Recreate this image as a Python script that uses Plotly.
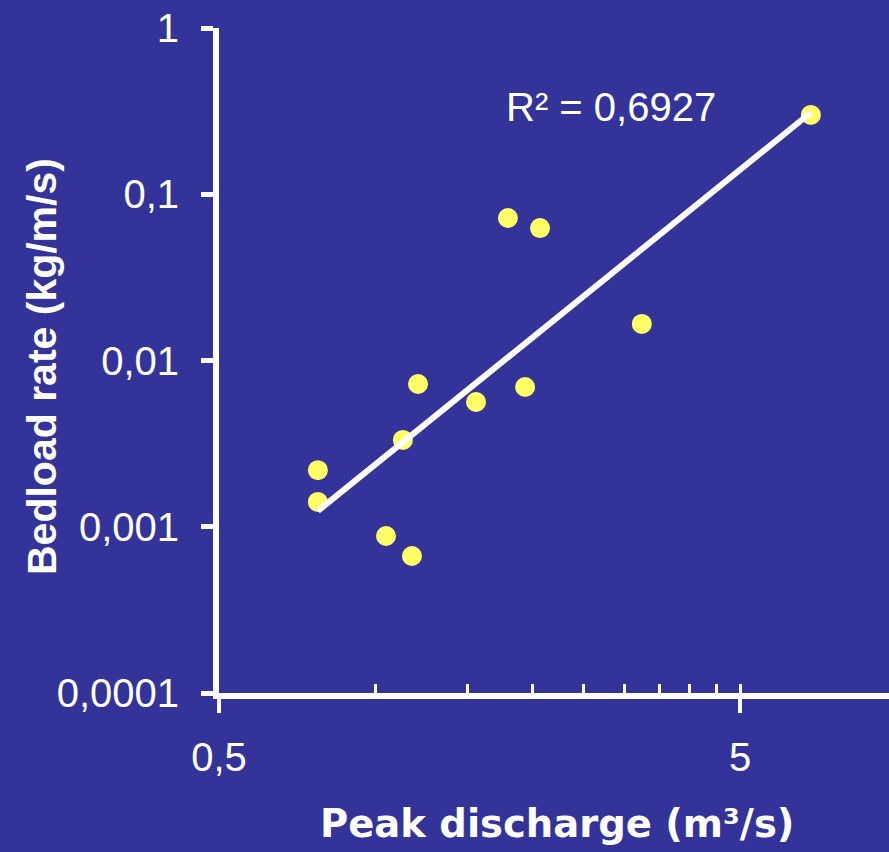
import numpy as np
import plotly.graph_objects as go

# Data (log-log scatter)
peak_discharge = [0.774, 0.774, 1.046, 1.173, 1.127, 1.205, 1.557, 1.793, 2.066, 1.934, 3.24, 6.84]
bedload_rate = [0.00219, 0.00141, 0.00088, 0.000667, 0.00333, 0.00722, 0.00563, 0.0720, 0.0626, 0.00693, 0.0166, 0.300]

y_tickvals = [0.0001, 0.001, 0.01, 0.1, 1]
y_ticktext = ["0,0001", "0,001", "0,01", "0,1", "1"]
x_tickvals = [0.5, 5]
x_ticktext = ["0,5", "5"]
x_minor_vals = [1, 1.5, 2, 2.5, 3, 3.5, 4, 4.5, 5]
r2_label = "R² = 0,6927"
x_title = "Peak discharge (m³/s)"
y_title = "Bedload rate (kg/m/s)"

BG = "#333399"
FONT = "Liberation Sans, Arial, sans-serif"

# Power trendline (linear fit in log-log space)
lx = np.log10(peak_discharge)
ly = np.log10(bedload_rate)
slope, intercept = np.polyfit(lx, ly, 1)
trend_x = np.array([min(peak_discharge), max(peak_discharge)])
trend_y = 10 ** (intercept + slope * np.log10(trend_x))

fig = go.Figure()
fig.add_trace(go.Scatter(
    x=peak_discharge, y=bedload_rate, mode="markers",
    marker=dict(size=20, color="#FFFF66", line=dict(width=0)),
    showlegend=False, cliponaxis=False,
))
fig.add_trace(go.Scatter(
    x=trend_x, y=trend_y, mode="lines",
    line=dict(color="white", width=6),
    showlegend=False, cliponaxis=False,
))

x_range = [np.log10(0.5), np.log10(0.5) + 670 / 521]

fig.update_layout(
    width=889, height=852,
    margin=dict(l=219, r=0, t=28, b=159),
    paper_bgcolor=BG, plot_bgcolor=BG,
    font=dict(family=FONT, color="white", size=40),
    xaxis=dict(
        type="log", range=x_range, showgrid=False, zeroline=False,
        showline=True, linecolor="white", linewidth=6,
        tickvals=x_tickvals, ticktext=x_ticktext,
        ticks="outside", ticklen=14, tickwidth=4, tickcolor="white",
        ticklabelstandoff=10,
        tickfont=dict(family=FONT, size=40, color="white"),
    ),
    xaxis2=dict(
        type="log", range=x_range, overlaying="x", side="bottom",
        showgrid=False, zeroline=False, showline=False,
        tickvals=x_minor_vals, ticks="inside", ticklen=9, tickwidth=3,
        tickcolor="white", showticklabels=False,
    ),
    yaxis=dict(
        type="log", range=[-4, 0], showgrid=False, zeroline=False,
        showline=True, linecolor="white", linewidth=6,
        tickvals=y_tickvals, ticktext=y_ticktext,
        ticks="outside", ticklen=12, tickwidth=5, tickcolor="white",
        ticklabelstandoff=14,
        tickfont=dict(family=FONT, size=40, color="white"),
    ),
    annotations=[
        dict(text=r2_label, xref="paper", yref="paper",
             x=(504 - 219) / 670, y=(693 - 107) / 665,
             xanchor="left", yanchor="middle", showarrow=False,
             font=dict(family=FONT, size=40, color="white")),
        dict(text="<b>" + x_title + "</b>", xref="paper", yref="paper",
             x=(557 - 219) / 670, y=(693 - 823) / 665,
             xanchor="center", yanchor="middle", showarrow=False,
             font=dict(family="DejaVu Sans, Verdana, sans-serif", size=38.5, color="white")),
        dict(text="<b>" + y_title + "</b>", xref="paper", yref="paper",
             x=(42 - 219) / 670, y=(693 - 367) / 665,
             xanchor="center", yanchor="middle", textangle=-90, showarrow=False,
             font=dict(family=FONT, size=41, color="white")),
    ],
)
# dummy trace on xaxis2 so the overlay axis is rendered
fig.add_trace(go.Scatter(x=[1], y=[0.001], xaxis="x2", mode="markers",
                         marker=dict(opacity=0), showlegend=False, hoverinfo="skip"))

fig.write_html("out.html")
